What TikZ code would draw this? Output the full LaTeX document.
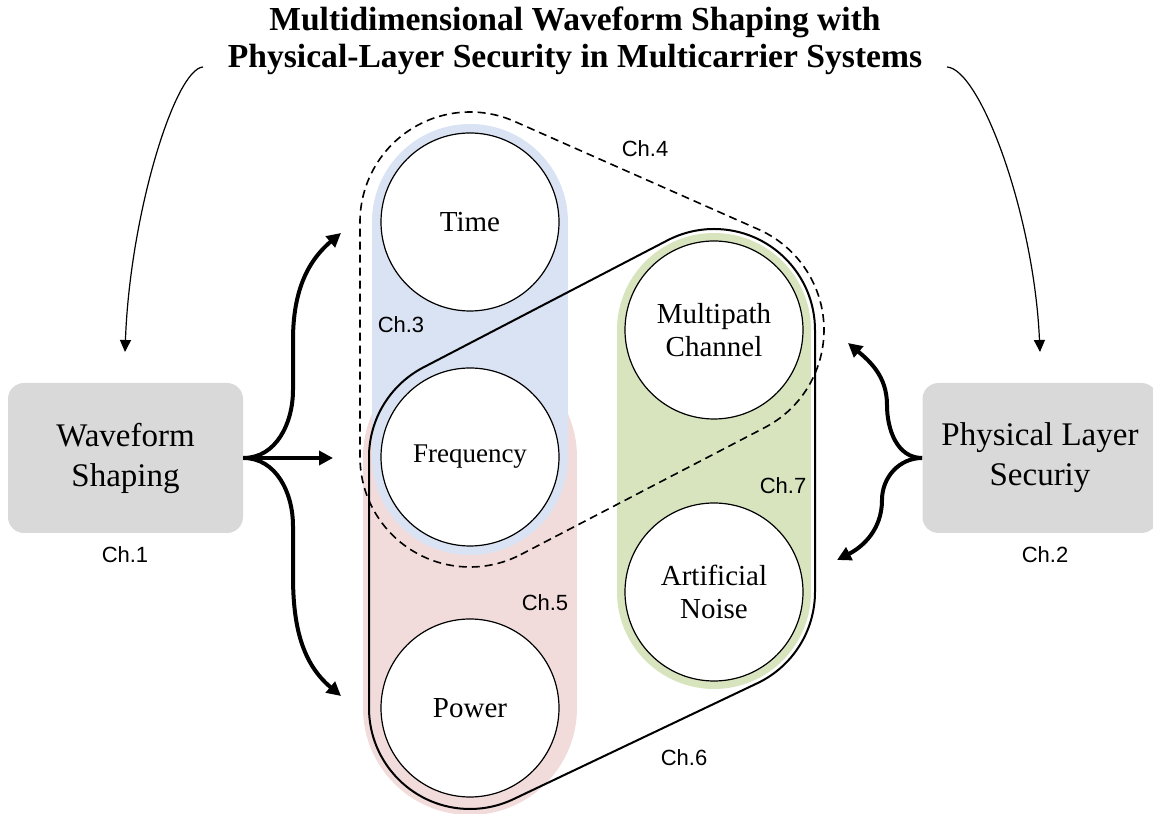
\documentclass[tikz,border=0pt]{standalone}
\usepackage{fontspec}
\setmainfont{Liberation Serif}
\newfontfamily\chfont{Liberation Sans}
\usepackage{xcolor}
\usetikzlibrary{calc,arrows.meta}
\definecolor{timeblue}{HTML}{DAE3F3}
\definecolor{powerred}{HTML}{F2DCDB}
\definecolor{noisegreen}{HTML}{D7E4BD}
\definecolor{boxgrey}{HTML}{D9D9D9}
\tikzstyle{greybox} =[
    fill=boxgrey,
    rectangle,
    rounded corners=8pt,
    minimum width=117.5pt,
    minimum height=75pt,
    align=center,
    font=\fontsize{16.5}{20}\selectfont
    ]
\tikzstyle{dimcircle} = [
    draw,
    fill=white,
    circle,
    line width=0.6pt,
    minimum size=89pt,
    inner sep=0pt,
    align=center,
    font=\fontsize{14.5}{16.5}\selectfont
    ]
\tikzstyle{chlabel} = [font=\chfont\fontsize{11}{13}\selectfont]
\tikzstyle{bigarrow} = [line width=2pt, -{Triangle[length=7pt,width=7pt]}]
\tikzstyle{thinarrow} = [line width=0.6pt, -{Triangle[length=6pt,width=5.5pt]}]
\tikzstyle{band} = [line cap=round]
\pgfdeclarelayer{background}
\pgfsetlayers{background,main}
\begin{document}
\begin{tikzpicture}[x=0.5pt,y=0.5pt]
\useasboundingbox (0,0) rectangle (1153,814);
\node[align=center, font=\bfseries\fontsize{16.8}{18.5}\selectfont] (title) at (575,773)
    {Multidimensional Waveform Shaping with\\Physical-Layer Security in Multicarrier Systems};

% side boxes
\node[greybox] (wave) at (125.5,356) {Waveform\\Shaping};
\node[greybox] (pls) at (1040,356) {Physical Layer\\Securiy};
\node[chlabel] (ch1) at (125,259) {Ch.1};
\node[chlabel] (ch2) at (1045,259) {Ch.2};

% dimensions
\node[dimcircle] (time) at (470,592) {Time};
\node[dimcircle, font=\fontsize{13.5}{15.5}\selectfont] (freq) at (470,357) {Frequency};
\node[dimcircle] (power) at (470,106) {Power};
\node[dimcircle] (mpath) at (714,484) {Multipath\\Channel};
\node[dimcircle] (noise) at (714,222) {Artificial\\Noise};

\begin{pgfonlayer}{background}
\draw[band, powerred, line width=107pt] (freq.center) -- (power.center);
\draw[band, timeblue, line width=98pt] (time.center) -- (freq.center);
\draw[band, noisegreen, line width=97pt] (mpath.center) -- (noise.center);
\end{pgfonlayer}

% Ch.6 hull
\draw[line width=1pt] ($(power.center)+(-64.57:101)$) -- ($(noise.center)+(-64.57:101)$)
    arc[start angle=-64.57, end angle=0, radius=50.5pt]
    -- ($(mpath.center)+(0:101)$) arc[start angle=0, end angle=117.5, radius=50.5pt]
    -- ($(freq.center)+(117.5:101)$) arc[start angle=117.5, end angle=180, radius=50.5pt]
    -- ($(power.center)+(180:101)$) arc[start angle=180, end angle=295.43, radius=50.5pt]
    -- cycle;
% Ch.4 hull
\draw[line width=0.8pt, dash pattern=on 4pt off 2.5pt] ($(freq.center)+(-62.5:110)$) -- ($(mpath.center)+(-62.5:110)$)
    arc[start angle=-62.5, end angle=66.13, radius=55pt]
    -- ($(time.center)+(66.13:110)$) arc[start angle=66.13, end angle=180, radius=55pt]
    -- ($(freq.center)+(180:110)$) arc[start angle=180, end angle=297.5, radius=55pt]
    -- cycle;

\node[chlabel] (ch3) at (401,489) {Ch.3};
\node[chlabel] (ch4) at (645,665) {Ch.4};
\node[chlabel] (ch5) at (545,211) {Ch.5};
\node[chlabel] (ch6) at (684,56) {Ch.6};
\node[chlabel] (ch7) at (783,328) {Ch.7};

% arrows
\coordinate (wtail) at (203,747);
\coordinate (ptail) at (947,747);
\coordinate (wtip) at (125,462);
\coordinate (ptip) at (1040,462);
\coordinate (uptip) at (341,581);
\coordinate (midtip) at (333,356);
\coordinate (lowtip) at (341,118);
\coordinate (pup) at (848,471);
\coordinate (plow) at (837,254);
\draw[thinarrow] (wtail) .. controls (175,745) and (130,600) .. (wtip);
\draw[thinarrow] (ptail) .. controls (980,745) and (1034,600) .. (ptip);
\draw[bigarrow] (wave.east) to[out=0, in=-90] (293,424) -- (293,474) to[out=90, in=-140] (uptip);
\draw[bigarrow] (wave.east) -- (midtip);
\draw[bigarrow] (wave.east) to[out=0, in=90] (293,288) -- (293,238) to[out=-90, in=140] (lowtip);
\draw[bigarrow] (pls.west) to[out=180, in=-90] (887,409) to[out=90, in=-40] (pup);
\draw[bigarrow] (pls.west) to[out=180, in=90] (882,314) to[out=-90, in=27] (plow);
\end{tikzpicture}
\end{document}
